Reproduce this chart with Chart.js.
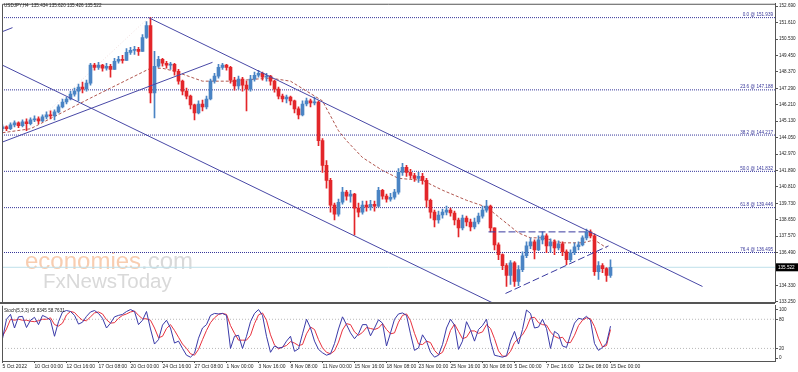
<!DOCTYPE html>
<html>
<head>
<meta charset="utf-8">
<script src="https://cdn.jsdelivr.net/npm/chart.js@4.4.1/dist/chart.umd.min.js"></script>
<style>
  html, body { margin: 0; padding: 0; background: #fff; }
  #wrap { position: relative; width: 798px; height: 372px; overflow: hidden; }
  #price-chart { position: absolute; left: 0; top: 0; }
  #stoch-chart { position: absolute; left: 0; top: 302px; }
</style>
</head>
<body>
<div id="wrap">
  <canvas id="price-chart" width="798" height="310"></canvas>
  <canvas id="stoch-chart" width="798" height="70"></canvas>
</div>
<script>
// x axis labels, one every 8 candles
const timeLabels = ['5 Oct 2022', '10 Oct 00:00', '12 Oct 16:00', '17 Oct 08:00', '20 Oct 00:00',
  '24 Oct 16:00', '27 Oct 08:00', '1 Nov 00:00', '3 Nov 16:00', '8 Nov 08:00', '11 Nov 00:00',
  '15 Nov 16:00', '18 Nov 08:00', '23 Nov 00:00', '25 Nov 16:00', '30 Nov 08:00', '5 Dec 00:00',
  '7 Dec 16:00', '12 Dec 08:00', '15 Dec 00:00'];

const priceTicks = [152.690, 151.610, 150.530, 149.450, 148.370, 147.290, 146.210, 145.130, 144.050,
  142.970, 141.890, 140.810, 139.730, 138.650, 137.570, 136.490, 135.410, 134.330, 133.250];
const stochTicks = [0, 20, 80, 100];
const stochLevels = [20, 80];

const firstOpen = 144.63;
const closes = [144.76, 144.63, 144.89, 145.02, 144.83, 145.09, 144.96, 145.22, 145.28, 145.15,
  145.41, 145.54, 145.48, 145.74, 146.07, 146.39, 146.59, 146.91, 147.11, 147.37,
  147.24, 147.63, 148.81, 148.67, 148.81, 148.61, 148.74, 148.54, 149.07, 149.20,
  149.13, 149.65, 149.78, 149.85, 149.72, 150.63, 151.41, 146.98, 148.74, 149.20,
  148.94, 148.81, 148.87, 148.41, 147.76, 147.11, 146.78, 146.20, 145.67, 146.26,
  146.07, 146.59, 147.76, 148.09, 148.67, 148.81, 148.67, 147.83, 147.44, 147.89,
  147.50, 147.24, 147.89, 148.15, 148.28, 148.02, 148.09, 147.76, 147.24, 146.78,
  146.59, 146.72, 146.46, 145.94, 145.54, 146.26, 146.46, 146.33, 146.39, 143.85,
  142.22, 141.24, 139.61, 139.02, 139.80, 140.46, 140.20, 140.33, 139.41, 139.15,
  139.61, 139.48, 139.67, 139.54, 140.59, 140.20, 140.00, 140.13, 140.46, 141.76,
  142.09, 141.76, 141.56, 141.37, 141.50, 141.24, 139.93, 139.15, 138.63, 138.96,
  139.15, 139.28, 139.09, 138.63, 138.11, 138.76, 138.50, 138.17, 138.50, 138.89,
  139.28, 139.54, 138.11, 137.00, 136.35, 135.63, 134.98, 135.82, 134.59, 135.37,
  136.28, 136.93, 137.19, 136.67, 137.32, 137.59, 136.93, 137.19, 136.80, 137.06,
  136.54, 136.02, 136.48, 136.87, 137.00, 137.46, 137.85, 137.59, 135.24, 135.63,
  135.43, 134.98, 135.52];
const highs = [144.89, 144.83, 145.02, 145.15, 145.09, 145.22, 145.28, 145.35, 145.48, 145.41,
  145.54, 145.74, 145.81, 145.87, 146.20, 146.59, 146.72, 147.11, 147.31, 147.57,
  147.70, 147.83, 148.94, 148.94, 149.00, 148.87, 148.94, 148.87, 149.26, 149.39,
  149.46, 149.91, 149.98, 150.05, 149.98, 150.83, 151.68, 151.94, 149.72, 149.39,
  149.26, 149.07, 149.00, 148.94, 148.54, 147.83, 147.31, 146.85, 146.26, 146.46,
  146.52, 146.78, 147.89, 148.28, 148.87, 148.94, 148.87, 148.74, 148.02, 148.09,
  148.02, 147.76, 148.15, 148.35, 148.48, 148.35, 148.28, 148.15, 147.83, 147.37,
  146.91, 146.85, 146.78, 146.52, 146.07, 146.46, 146.65, 146.59, 146.72, 146.46,
  143.98, 142.54, 141.37, 139.74, 140.00, 140.78, 140.59, 140.59, 140.39, 139.74,
  139.87, 139.87, 139.93, 139.87, 140.78, 140.65, 140.33, 140.39, 140.65, 142.02,
  142.35, 142.22, 141.96, 141.70, 141.76, 141.70, 141.37, 140.00, 139.28, 139.22,
  139.35, 139.54, 139.41, 139.22, 138.76, 138.96, 138.89, 138.69, 138.76, 139.09,
  139.54, 139.93, 139.61, 138.11, 137.13, 136.41, 135.76, 135.96, 135.89, 135.63,
  136.54, 137.19, 137.46, 137.32, 137.59, 137.85, 137.72, 137.39, 137.32, 137.26,
  137.19, 136.67, 136.67, 137.13, 137.19, 137.59, 138.04, 137.98, 137.72, 135.89,
  135.76, 135.50, 136.02];
const lows = [144.50, 144.50, 144.57, 144.76, 144.70, 144.76, 144.50, 144.89, 145.09, 144.96,
  145.09, 145.28, 145.28, 145.22, 145.67, 146.00, 146.26, 146.52, 146.78, 146.46,
  146.98, 147.11, 147.50, 148.48, 148.54, 148.41, 148.48, 148.02, 148.54, 148.94,
  148.94, 149.20, 149.52, 149.52, 149.46, 149.72, 150.57, 146.33, 145.35, 148.67,
  148.74, 148.61, 148.54, 148.15, 147.57, 146.85, 146.59, 145.94, 145.22, 145.61,
  145.81, 145.94, 146.52, 147.63, 147.96, 148.54, 148.48, 147.63, 147.17, 147.24,
  147.11, 145.81, 147.11, 147.76, 148.02, 147.83, 147.76, 147.50, 147.04, 146.59,
  146.39, 146.33, 146.20, 145.67, 145.28, 145.48, 146.13, 146.07, 146.20, 143.52,
  141.76, 140.72, 139.15, 138.63, 138.89, 139.67, 139.93, 139.80, 137.65, 138.83,
  139.02, 139.22, 139.28, 139.22, 139.48, 140.00, 139.80, 139.87, 140.00, 140.33,
  141.56, 141.50, 141.37, 141.17, 141.11, 140.98, 139.48, 138.76, 138.17, 138.43,
  138.76, 138.96, 138.89, 138.30, 137.52, 137.98, 138.24, 137.91, 138.04, 138.37,
  138.76, 139.15, 137.85, 136.67, 136.02, 135.37, 134.26, 134.39, 134.26, 134.32,
  135.24, 136.15, 136.74, 136.08, 136.61, 137.06, 136.48, 136.54, 136.35, 136.67,
  136.28, 135.69, 135.89, 136.35, 136.67, 136.93, 137.32, 137.46, 134.98, 134.72,
  135.17, 134.59, 134.85];
const lastPrice = 135.522;

// dashed moving average, read at a few candles
const maIndex = [0, 7, 22, 37, 40, 43, 50, 58, 63, 67, 72, 76, 80, 84, 86, 90, 95, 99, 105, 110,
  116, 121, 125, 129, 132, 135, 140, 145, 148, 151];
const maValues = [144.37, 144.63, 146.65, 148.61, 148.61, 148.41, 147.76, 147.76, 147.89, 147.96,
  147.76, 147.11, 146.46, 144.50, 143.85, 142.74, 141.89, 141.37, 141.24, 140.59,
  139.93, 139.48, 138.63, 137.78, 137.46, 137.46, 137.13, 137.13, 137.32, 136.80];

// fibonacci retracement
const fibPercents = ['0.0', '23.6', '38.2', '50.0', '61.8', '76.4'];
const fibLevels = [151.939, 147.188, 144.217, 141.832, 139.446, 136.495];

// drawn trend lines: [candle index, price] pairs
const channelUpper = [[36.5, 151.94], [175, 134.26]];
const channelLower = [[0, 148.81], [126, 132.74]];
const risingLine = [[0, 143.76], [52.5, 149.00]];
const risingUpper = [[0, 151.02], [2.5, 151.28]];
const fibBase = [[7, 144.70], [36.25, 151.87]];
const triangleTop = [[121.5, 137.85], [147, 137.85]];
const triangleBottom = [[125.75, 133.80], [151.5, 136.93]];

// Stochastic (5,3,3)
const stochMain = [40, 80, 90, 62, 85, 86, 63, 78, 84, 69,
  88, 84, 78, 45, 75, 95, 98, 96, 88, 70,
  74, 86, 95, 98, 92, 82, 62, 72, 85, 88,
  90, 96, 100, 96, 69, 78, 96, 60, 29, 38,
  68, 78, 62, 31, 35, 20, 6, 2, 10, 41,
  62, 69, 88, 92, 91, 92, 88, 20, 45, 47,
  20, 45, 75, 92, 100, 88, 45, 12, 25, 21,
  22, 35, 45, 14, 19, 50, 80, 62, 35, 18,
  11, 6, 9, 30, 60, 85, 69, 52, 40, 50,
  69, 69, 46, 62, 79, 72, 25, 52, 80, 91,
  93, 88, 50, 16, 21, 48, 35, 12, 2, 6,
  28, 62, 80, 68, 18, 35, 75, 58, 35, 59,
  67, 80, 35, 6, 4, 2, 5, 35, 55, 29,
  59, 99, 92, 62, 64, 80, 61, 20, 55, 49,
  25, 22, 48, 72, 82, 80, 86, 78, 30, 16,
  22, 31, 65.83];
const stochSignal = [45, 60, 80, 78, 80, 78, 78, 76, 75, 77,
  80, 80, 83, 69, 66, 72, 89, 96, 94, 85,
  78, 77, 85, 93, 95, 91, 79, 72, 73, 82,
  88, 91, 95, 97, 88, 81, 81, 78, 62, 42,
  45, 61, 69, 57, 43, 29, 20, 9, 6, 18,
  38, 57, 73, 83, 90, 92, 90, 67, 51, 37,
  37, 37, 47, 71, 89, 93, 78, 48, 27, 19,
  23, 26, 34, 31, 26, 28, 50, 64, 59, 38,
  21, 12, 9, 15, 33, 58, 71, 69, 54, 47,
  53, 63, 61, 59, 62, 71, 59, 50, 52, 74,
  88, 91, 77, 51, 29, 28, 35, 32, 16, 7,
  12, 32, 57, 70, 55, 40, 43, 56, 56, 51,
  54, 69, 61, 40, 15, 4, 4, 14, 32, 40,
  48, 62, 83, 84, 73, 69, 68, 54, 45, 41,
  43, 32, 32, 47, 67, 78, 83, 81, 65, 41,
  23, 26, 58.76];

(function () {
  'use strict';

  const FONT = "'Liberation Sans', Arial, sans-serif";
  Chart.defaults.font.family = FONT;
  Chart.defaults.color = '#222';
  Chart.defaults.animation = false;
  Chart.defaults.events = [];

  const X_MIN = -0.125;
  const X_MAX = 193.125;
  const UP_COLOR = '#4a84c4';
  const DOWN_COLOR = '#e3262a';
  const LINE_COLOR = '#4848a6';
  const FRAME_COLOR = '#555';

  const opens = closes.map((c, i) => (i === 0 ? firstOpen : closes[i - 1]));
  const candleColors = closes.map((c, i) => (c >= opens[i] ? UP_COLOR : DOWN_COLOR));
  const bodies = closes.map((c, i) => ({ x: i, y: [opens[i], c] }));
  const wicks = closes.map((c, i) => ({
    x: i,
    y: [Math.min(lows[i], opens[i], c), Math.max(highs[i], opens[i], c)]
  }));

  const toPoints = pairs => pairs.map(p => ({ x: p[0], y: p[1] }));
  const lineSet = (data, color, dash, order) => ({
    type: 'line',
    data: data,
    borderColor: color,
    borderWidth: 1,
    borderDash: dash || [],
    pointRadius: 0,
    fill: false,
    tension: 0,
    order: order
  });
  const fullWidth = v => [{ x: X_MIN, y: v }, { x: X_MAX, y: v }];

  const priceDatasets = [
    lineSet(fullWidth(lastPrice), '#bfe0ea', null, 20),
    ...fibLevels.map(v => lineSet(fullWidth(v), '#36369a', [1, 1], 15)),
    lineSet(toPoints(fibBase), '#f0dede', [1, 2], 14),
    lineSet(maIndex.map((x, i) => ({ x: x, y: maValues[i] })), '#b0564e', [3, 2], 10),
    {
      type: 'bar',
      data: wicks,
      backgroundColor: candleColors,
      barThickness: 1,
      grouped: false,
      borderWidth: 0,
      order: 6
    },
    {
      type: 'bar',
      data: bodies,
      backgroundColor: candleColors,
      barThickness: 3,
      minBarLength: 1,
      grouped: false,
      borderWidth: 0,
      order: 5
    },
    lineSet(toPoints(channelUpper), LINE_COLOR, null, 1),
    lineSet(toPoints(channelLower), LINE_COLOR, null, 1),
    lineSet(toPoints(risingLine), LINE_COLOR, null, 1),
    lineSet(toPoints(risingUpper), LINE_COLOR, null, 1),
    lineSet(toPoints(triangleTop), '#3a3aa0', [7, 3], 1),
    lineSet(toPoints(triangleBottom), '#3a3aa0', [7, 3], 1)
  ];

  // Watermark, frame, fib labels and the price marker
  const priceDecor = {
    id: 'priceDecor',
    beforeDatasetsDraw(chart) {
      const ctx = chart.ctx;
      ctx.save();
      ctx.textBaseline = 'alphabetic';
      ctx.font = '24px ' + FONT;
      ctx.fillStyle = '#f8cdb0';
      ctx.fillText('economies', 25, 269);
      const w = ctx.measureText('economies').width;
      ctx.fillStyle = '#d9d9d9';
      ctx.fillText('.com', 25 + w, 269);
      ctx.font = '20.5px ' + FONT;
      ctx.fillText('FxNewsToday', 43, 288);
      ctx.restore();
    },
    afterDraw(chart) {
      const ctx = chart.ctx;
      const a = chart.chartArea;
      const y = chart.scales.y;
      ctx.save();
      ctx.strokeStyle = FRAME_COLOR;
      ctx.lineWidth = 1;
      ctx.beginPath();
      ctx.moveTo(a.left + 0.5, a.bottom);
      ctx.lineTo(a.left + 0.5, a.top + 0.5);
      ctx.lineTo(a.right, a.top + 0.5);
      ctx.stroke();
      ctx.lineWidth = 2;
      ctx.beginPath();
      ctx.moveTo(0, a.bottom + 1);
      ctx.lineTo(a.right, a.bottom + 1);
      ctx.stroke();

      ctx.font = '4.6px ' + FONT;
      ctx.fillStyle = '#222';
      ctx.textBaseline = 'middle';
      ctx.fillText('USDJPY,H4  135.434 135.620 135.426 135.522', 4, 5.5);

      ctx.textAlign = 'right';
      ctx.textBaseline = 'bottom';
      ctx.fillStyle = '#36369a';
      fibLevels.forEach((lvl, i) => {
        ctx.fillText(fibPercents[i] + ' @ ' + lvl.toFixed(3), a.right - 2, y.getPixelForValue(lvl) - 0.5);
      });

      const py = y.getPixelForValue(lastPrice);
      ctx.fillStyle = '#000';
      ctx.fillRect(a.right + 1, py - 4, 22, 8);
      ctx.fillStyle = '#fff';
      ctx.textAlign = 'left';
      ctx.textBaseline = 'middle';
      ctx.fillText(lastPrice.toFixed(3), a.right + 3, py);
      ctx.restore();
    }
  };

  new Chart(document.getElementById('price-chart'), {
    type: 'bar',
    data: { datasets: priceDatasets },
    options: {
      responsive: false,
      devicePixelRatio: 1,
      layout: { padding: { left: 2, top: 2, right: 0, bottom: 8 } },
      plugins: { legend: { display: false }, tooltip: { enabled: false } },
      scales: {
        x: {
          type: 'linear',
          min: X_MIN,
          max: X_MAX,
          offset: false,
          grid: { offset: false },
          display: false
        },
        y: {
          position: 'right',
          min: 133.24,
          max: 152.85,
          afterFit: s => { s.width = 23; },
          afterBuildTicks: s => { s.ticks = priceTicks.map(v => ({ value: v })); },
          grid: { drawOnChartArea: false, tickLength: 3, tickColor: FRAME_COLOR },
          border: { color: FRAME_COLOR },
          ticks: { font: { size: 4.6 }, padding: 1, callback: v => v.toFixed(3) }
        }
      }
    },
    plugins: [priceDecor]
  });

  // Stochastic panel
  const stochDecor = {
    id: 'stochDecor',
    afterDraw(chart) {
      const ctx = chart.ctx;
      const a = chart.chartArea;
      ctx.save();
      ctx.strokeStyle = FRAME_COLOR;
      ctx.lineWidth = 1;
      ctx.beginPath();
      ctx.moveTo(a.left + 0.5, a.top);
      ctx.lineTo(a.left + 0.5, a.bottom);
      ctx.stroke();
      ctx.font = '4.6px ' + FONT;
      ctx.fillStyle = '#222';
      ctx.textBaseline = 'middle';
      ctx.fillText('Stoch(5,3,3) 65.8345 58.7631', 4, a.top + 5);
      ctx.restore();
    }
  };

  new Chart(document.getElementById('stoch-chart'), {
    type: 'line',
    data: {
      datasets: [
        ...stochLevels.map(v => lineSet(fullWidth(v), '#b8b8b8', [1, 2], 10)),
        lineSet(stochSignal.map((v, i) => ({ x: i, y: v })), '#e8323e', null, 2),
        lineSet(stochMain.map((v, i) => ({ x: i, y: v })), '#3a3aa8', null, 1)
      ]
    },
    options: {
      responsive: false,
      devicePixelRatio: 1,
      layout: { padding: { left: 2, top: 1, right: 0, bottom: 0 } },
      plugins: { legend: { display: false }, tooltip: { enabled: false } },
      scales: {
        x: {
          type: 'linear',
          min: X_MIN,
          max: X_MAX,
          afterFit: s => { s.height = 11; },
          afterBuildTicks: s => { s.ticks = timeLabels.map((t, k) => ({ value: k * 8 })); },
          grid: { drawOnChartArea: false, tickLength: 2, tickColor: FRAME_COLOR },
          border: { color: FRAME_COLOR },
          ticks: {
            font: { size: 5 },
            padding: 1,
            align: 'start',
            autoSkip: false,
            maxRotation: 0,
            minRotation: 0,
            callback: (v, i) => timeLabels[i]
          }
        },
        y: {
          position: 'right',
          min: -5.9,
          max: 107.8,
          afterFit: s => { s.width = 23; },
          afterBuildTicks: s => { s.ticks = stochTicks.map(v => ({ value: v })); },
          grid: { drawOnChartArea: false, tickLength: 3, tickColor: FRAME_COLOR },
          border: { color: FRAME_COLOR },
          ticks: { font: { size: 4.6 }, padding: 1 }
        }
      }
    },
    plugins: [stochDecor]
  });
})();
</script>
</body>
</html>
